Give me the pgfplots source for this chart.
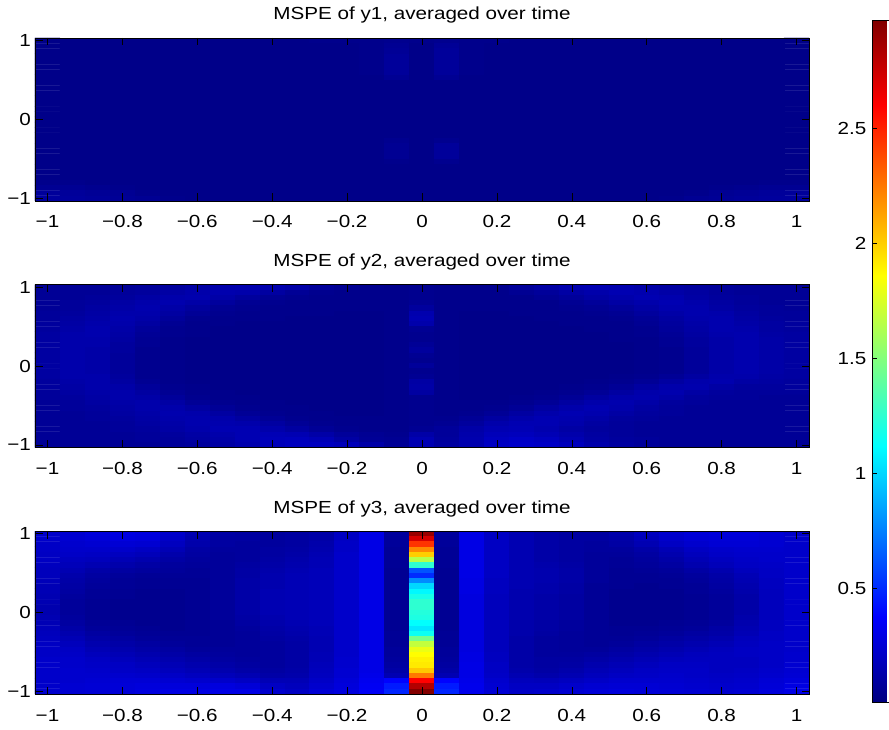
\documentclass[border=0pt]{standalone}
\usepackage{pgfplots}
\pgfplotsset{compat=1.18}
\usepackage{fontspec}
\setmainfont{Liberation Sans}[FakeStretch=1.18]

\newcommand{\lab}{\fontsize{17.5}{18}\selectfont}

% 31 x 31 grids, x from -1 to 1 (columns), y from 1 down to -1 (rows),
% one value per cell, rows written from the top of the panel downwards
\pgfplotsset{
  mspe/.style={
    scale only axis,
    width=774pt, height=163pt,
    anchor=south west,
    xmin=-0.5, xmax=30.5, ymin=-0.5, ymax=30.5,
    y dir=reverse,
    xtick={0,3,...,30},
    xticklabels={−1,−0.8,−0.6,−0.4,−0.2,0,0.2,0.4,0.6,0.8,1},
    ytick={0,15,30},
    yticklabels={1,0,−1},
    tick align=inside,
    tick pos=both,
    major tick length=7.5pt,
    tick style={black, line width=0.6pt},
    axis line style={black, line width=0.8pt},
    axis on top,
    colormap/jet,
    point meta min=0.005, point meta max=2.97,
    xticklabel style={font=\lab, anchor=base, yshift=-27pt},
    yticklabel style={font=\lab, anchor=east, inner sep=0pt, xshift=-4pt},
    title style={font=\lab, at={(0.5,1)}, anchor=base, yshift=12pt},
  },
  cells/.style={matrix plot*, mesh/cols=31, point meta=explicit,
    draw=mapped color, line width=0.3pt},
}

\begin{document}
\begin{tikzpicture}

% ---------------- y1 ----------------
\begin{axis}[mspe, at={(35pt,528pt)},
  title={MSPE of y1, averaged over time},
  colorbar,
  colorbar style={
    at={(864pt,709pt)}, anchor=north west,
    scale only axis, width=26pt, height=682pt,
    y dir=normal,
    ytick={0.5,1,1.5,2,2.5},
    yticklabels={0.5,1,1.5,2,2.5},
    yticklabel pos=left,
    ytick pos=both,
    tick align=inside,
    major tick length=4pt,
    tick style={black, line width=0.6pt},
    axis line style={black, line width=0.8pt},
    yticklabel style={font=\lab, anchor=east, inner sep=0pt, xshift=-6pt},
  },
]
\addplot[cells] table[row sep=\\, header=false, meta index=0,
  x expr={round(\coordindex-31*floor((\coordindex+0.5)/31))},
  y expr={round(floor((\coordindex+0.5)/31))}] {
0.03\\ 0.03\\ 0.03\\ 0.03\\ 0.03\\ 0.03\\ 0.03\\ 0.03\\ 0.03\\ 0.03\\ 0.03\\ 0.04\\ 0.04\\ 0.04\\ 0.05\\ 0.04\\ 0.05\\ 0.04\\ 0.04\\ 0.03\\ 0.03\\ 0.03\\ 0.03\\ 0.03\\ 0.03\\ 0.03\\ 0.03\\ 0.03\\ 0.03\\ 0.03\\ 0.03\\
0.03\\ 0.03\\ 0.03\\ 0.03\\ 0.03\\ 0.03\\ 0.03\\ 0.03\\ 0.03\\ 0.03\\ 0.03\\ 0.03\\ 0.03\\ 0.04\\ 0.06\\ 0.03\\ 0.07\\ 0.04\\ 0.03\\ 0.03\\ 0.03\\ 0.03\\ 0.03\\ 0.03\\ 0.03\\ 0.03\\ 0.03\\ 0.03\\ 0.03\\ 0.03\\ 0.03\\
0.03\\ 0.03\\ 0.03\\ 0.03\\ 0.03\\ 0.03\\ 0.03\\ 0.03\\ 0.03\\ 0.03\\ 0.03\\ 0.03\\ 0.03\\ 0.04\\ 0.07\\ 0.03\\ 0.08\\ 0.04\\ 0.03\\ 0.03\\ 0.03\\ 0.03\\ 0.03\\ 0.03\\ 0.03\\ 0.03\\ 0.03\\ 0.03\\ 0.03\\ 0.03\\ 0.03\\
0.03\\ 0.03\\ 0.03\\ 0.03\\ 0.03\\ 0.03\\ 0.03\\ 0.03\\ 0.03\\ 0.03\\ 0.03\\ 0.03\\ 0.03\\ 0.04\\ 0.08\\ 0.03\\ 0.08\\ 0.04\\ 0.03\\ 0.03\\ 0.03\\ 0.03\\ 0.03\\ 0.03\\ 0.03\\ 0.03\\ 0.03\\ 0.03\\ 0.03\\ 0.03\\ 0.03\\
0.03\\ 0.03\\ 0.03\\ 0.03\\ 0.03\\ 0.03\\ 0.03\\ 0.03\\ 0.03\\ 0.03\\ 0.03\\ 0.03\\ 0.03\\ 0.04\\ 0.08\\ 0.03\\ 0.08\\ 0.04\\ 0.03\\ 0.03\\ 0.03\\ 0.03\\ 0.03\\ 0.03\\ 0.03\\ 0.03\\ 0.03\\ 0.03\\ 0.03\\ 0.03\\ 0.03\\
0.03\\ 0.03\\ 0.03\\ 0.03\\ 0.03\\ 0.03\\ 0.03\\ 0.03\\ 0.03\\ 0.03\\ 0.03\\ 0.03\\ 0.03\\ 0.04\\ 0.08\\ 0.03\\ 0.08\\ 0.04\\ 0.03\\ 0.03\\ 0.03\\ 0.03\\ 0.03\\ 0.03\\ 0.03\\ 0.03\\ 0.03\\ 0.03\\ 0.03\\ 0.03\\ 0.03\\
0.03\\ 0.03\\ 0.03\\ 0.03\\ 0.03\\ 0.03\\ 0.03\\ 0.03\\ 0.03\\ 0.03\\ 0.03\\ 0.03\\ 0.03\\ 0.04\\ 0.08\\ 0.03\\ 0.08\\ 0.04\\ 0.03\\ 0.03\\ 0.03\\ 0.03\\ 0.03\\ 0.03\\ 0.03\\ 0.03\\ 0.03\\ 0.03\\ 0.03\\ 0.03\\ 0.03\\
0.03\\ 0.03\\ 0.03\\ 0.03\\ 0.03\\ 0.03\\ 0.03\\ 0.03\\ 0.03\\ 0.03\\ 0.03\\ 0.03\\ 0.03\\ 0.03\\ 0.06\\ 0.03\\ 0.06\\ 0.03\\ 0.03\\ 0.03\\ 0.03\\ 0.03\\ 0.03\\ 0.03\\ 0.03\\ 0.03\\ 0.03\\ 0.03\\ 0.03\\ 0.03\\ 0.03\\
0.03\\ 0.03\\ 0.03\\ 0.03\\ 0.03\\ 0.03\\ 0.03\\ 0.03\\ 0.03\\ 0.03\\ 0.03\\ 0.03\\ 0.03\\ 0.03\\ 0.03\\ 0.03\\ 0.03\\ 0.03\\ 0.03\\ 0.03\\ 0.03\\ 0.03\\ 0.03\\ 0.03\\ 0.03\\ 0.03\\ 0.03\\ 0.03\\ 0.03\\ 0.03\\ 0.03\\
0.03\\ 0.03\\ 0.03\\ 0.03\\ 0.03\\ 0.03\\ 0.03\\ 0.03\\ 0.03\\ 0.03\\ 0.03\\ 0.03\\ 0.03\\ 0.03\\ 0.03\\ 0.03\\ 0.03\\ 0.03\\ 0.03\\ 0.03\\ 0.03\\ 0.03\\ 0.03\\ 0.03\\ 0.03\\ 0.03\\ 0.03\\ 0.03\\ 0.03\\ 0.03\\ 0.03\\
0.03\\ 0.03\\ 0.03\\ 0.03\\ 0.03\\ 0.03\\ 0.03\\ 0.03\\ 0.03\\ 0.03\\ 0.03\\ 0.03\\ 0.03\\ 0.03\\ 0.03\\ 0.03\\ 0.03\\ 0.03\\ 0.03\\ 0.03\\ 0.03\\ 0.03\\ 0.03\\ 0.03\\ 0.03\\ 0.03\\ 0.03\\ 0.03\\ 0.03\\ 0.03\\ 0.03\\
0.03\\ 0.03\\ 0.03\\ 0.03\\ 0.03\\ 0.03\\ 0.03\\ 0.03\\ 0.03\\ 0.03\\ 0.03\\ 0.03\\ 0.03\\ 0.03\\ 0.03\\ 0.03\\ 0.03\\ 0.03\\ 0.03\\ 0.03\\ 0.03\\ 0.03\\ 0.03\\ 0.03\\ 0.03\\ 0.03\\ 0.03\\ 0.03\\ 0.03\\ 0.03\\ 0.03\\
0.03\\ 0.03\\ 0.03\\ 0.03\\ 0.03\\ 0.03\\ 0.03\\ 0.03\\ 0.03\\ 0.03\\ 0.03\\ 0.03\\ 0.03\\ 0.03\\ 0.03\\ 0.03\\ 0.03\\ 0.03\\ 0.03\\ 0.03\\ 0.03\\ 0.03\\ 0.03\\ 0.03\\ 0.03\\ 0.03\\ 0.03\\ 0.03\\ 0.03\\ 0.03\\ 0.03\\
0.03\\ 0.03\\ 0.03\\ 0.03\\ 0.03\\ 0.03\\ 0.03\\ 0.03\\ 0.03\\ 0.03\\ 0.03\\ 0.03\\ 0.03\\ 0.03\\ 0.03\\ 0.03\\ 0.03\\ 0.03\\ 0.03\\ 0.03\\ 0.03\\ 0.03\\ 0.03\\ 0.03\\ 0.03\\ 0.03\\ 0.03\\ 0.03\\ 0.03\\ 0.03\\ 0.03\\
0.03\\ 0.03\\ 0.03\\ 0.03\\ 0.03\\ 0.03\\ 0.03\\ 0.03\\ 0.03\\ 0.03\\ 0.03\\ 0.03\\ 0.03\\ 0.03\\ 0.03\\ 0.03\\ 0.03\\ 0.03\\ 0.03\\ 0.03\\ 0.03\\ 0.03\\ 0.03\\ 0.03\\ 0.03\\ 0.03\\ 0.03\\ 0.03\\ 0.03\\ 0.03\\ 0.03\\
0.03\\ 0.03\\ 0.03\\ 0.03\\ 0.03\\ 0.03\\ 0.03\\ 0.03\\ 0.03\\ 0.03\\ 0.03\\ 0.03\\ 0.03\\ 0.03\\ 0.03\\ 0.03\\ 0.03\\ 0.03\\ 0.03\\ 0.03\\ 0.03\\ 0.03\\ 0.03\\ 0.03\\ 0.03\\ 0.03\\ 0.03\\ 0.03\\ 0.03\\ 0.03\\ 0.03\\
0.03\\ 0.03\\ 0.03\\ 0.03\\ 0.03\\ 0.03\\ 0.03\\ 0.03\\ 0.03\\ 0.03\\ 0.03\\ 0.03\\ 0.03\\ 0.03\\ 0.03\\ 0.03\\ 0.03\\ 0.03\\ 0.03\\ 0.03\\ 0.03\\ 0.03\\ 0.03\\ 0.03\\ 0.03\\ 0.03\\ 0.03\\ 0.03\\ 0.03\\ 0.03\\ 0.03\\
0.03\\ 0.03\\ 0.03\\ 0.03\\ 0.03\\ 0.03\\ 0.03\\ 0.03\\ 0.03\\ 0.03\\ 0.03\\ 0.03\\ 0.03\\ 0.03\\ 0.03\\ 0.03\\ 0.03\\ 0.03\\ 0.03\\ 0.03\\ 0.03\\ 0.03\\ 0.03\\ 0.03\\ 0.03\\ 0.03\\ 0.03\\ 0.03\\ 0.03\\ 0.03\\ 0.03\\
0.03\\ 0.03\\ 0.03\\ 0.03\\ 0.03\\ 0.03\\ 0.03\\ 0.03\\ 0.03\\ 0.03\\ 0.03\\ 0.03\\ 0.03\\ 0.03\\ 0.03\\ 0.03\\ 0.03\\ 0.03\\ 0.03\\ 0.03\\ 0.03\\ 0.03\\ 0.03\\ 0.03\\ 0.03\\ 0.03\\ 0.03\\ 0.03\\ 0.03\\ 0.03\\ 0.03\\
0.03\\ 0.03\\ 0.03\\ 0.03\\ 0.03\\ 0.03\\ 0.03\\ 0.03\\ 0.03\\ 0.03\\ 0.03\\ 0.03\\ 0.03\\ 0.03\\ 0.05\\ 0.03\\ 0.05\\ 0.03\\ 0.03\\ 0.03\\ 0.03\\ 0.03\\ 0.03\\ 0.03\\ 0.03\\ 0.03\\ 0.03\\ 0.03\\ 0.03\\ 0.03\\ 0.03\\
0.03\\ 0.03\\ 0.03\\ 0.03\\ 0.03\\ 0.03\\ 0.03\\ 0.03\\ 0.03\\ 0.03\\ 0.03\\ 0.03\\ 0.03\\ 0.03\\ 0.06\\ 0.03\\ 0.08\\ 0.03\\ 0.03\\ 0.03\\ 0.03\\ 0.03\\ 0.03\\ 0.03\\ 0.03\\ 0.03\\ 0.03\\ 0.03\\ 0.03\\ 0.03\\ 0.03\\
0.03\\ 0.03\\ 0.03\\ 0.03\\ 0.03\\ 0.03\\ 0.03\\ 0.03\\ 0.03\\ 0.03\\ 0.03\\ 0.03\\ 0.03\\ 0.03\\ 0.06\\ 0.03\\ 0.08\\ 0.03\\ 0.03\\ 0.03\\ 0.03\\ 0.03\\ 0.03\\ 0.03\\ 0.03\\ 0.03\\ 0.03\\ 0.03\\ 0.03\\ 0.03\\ 0.03\\
0.03\\ 0.03\\ 0.03\\ 0.03\\ 0.03\\ 0.03\\ 0.03\\ 0.03\\ 0.03\\ 0.03\\ 0.03\\ 0.03\\ 0.03\\ 0.03\\ 0.06\\ 0.03\\ 0.08\\ 0.03\\ 0.03\\ 0.03\\ 0.03\\ 0.03\\ 0.03\\ 0.03\\ 0.03\\ 0.03\\ 0.03\\ 0.03\\ 0.03\\ 0.03\\ 0.03\\
0.03\\ 0.03\\ 0.03\\ 0.03\\ 0.03\\ 0.03\\ 0.03\\ 0.03\\ 0.03\\ 0.03\\ 0.03\\ 0.03\\ 0.03\\ 0.03\\ 0.04\\ 0.03\\ 0.05\\ 0.03\\ 0.03\\ 0.03\\ 0.03\\ 0.03\\ 0.03\\ 0.03\\ 0.03\\ 0.03\\ 0.03\\ 0.03\\ 0.03\\ 0.03\\ 0.03\\
0.03\\ 0.03\\ 0.03\\ 0.03\\ 0.03\\ 0.03\\ 0.03\\ 0.03\\ 0.03\\ 0.03\\ 0.03\\ 0.03\\ 0.03\\ 0.03\\ 0.03\\ 0.03\\ 0.03\\ 0.03\\ 0.03\\ 0.03\\ 0.03\\ 0.03\\ 0.03\\ 0.03\\ 0.03\\ 0.03\\ 0.03\\ 0.03\\ 0.03\\ 0.03\\ 0.03\\
0.03\\ 0.03\\ 0.03\\ 0.03\\ 0.03\\ 0.03\\ 0.03\\ 0.03\\ 0.03\\ 0.03\\ 0.03\\ 0.03\\ 0.03\\ 0.03\\ 0.03\\ 0.03\\ 0.03\\ 0.03\\ 0.03\\ 0.03\\ 0.03\\ 0.03\\ 0.03\\ 0.03\\ 0.03\\ 0.03\\ 0.03\\ 0.03\\ 0.03\\ 0.03\\ 0.03\\
0.03\\ 0.03\\ 0.03\\ 0.03\\ 0.03\\ 0.03\\ 0.03\\ 0.03\\ 0.03\\ 0.03\\ 0.03\\ 0.03\\ 0.03\\ 0.03\\ 0.03\\ 0.03\\ 0.03\\ 0.03\\ 0.03\\ 0.03\\ 0.03\\ 0.03\\ 0.03\\ 0.03\\ 0.03\\ 0.03\\ 0.03\\ 0.03\\ 0.03\\ 0.03\\ 0.03\\
0.04\\ 0.04\\ 0.03\\ 0.03\\ 0.03\\ 0.03\\ 0.03\\ 0.03\\ 0.03\\ 0.03\\ 0.03\\ 0.03\\ 0.03\\ 0.03\\ 0.03\\ 0.03\\ 0.03\\ 0.03\\ 0.03\\ 0.03\\ 0.03\\ 0.03\\ 0.03\\ 0.03\\ 0.03\\ 0.03\\ 0.03\\ 0.03\\ 0.03\\ 0.04\\ 0.04\\
0.06\\ 0.06\\ 0.05\\ 0.04\\ 0.03\\ 0.03\\ 0.03\\ 0.03\\ 0.03\\ 0.03\\ 0.03\\ 0.03\\ 0.03\\ 0.03\\ 0.03\\ 0.03\\ 0.03\\ 0.03\\ 0.03\\ 0.03\\ 0.03\\ 0.03\\ 0.03\\ 0.03\\ 0.03\\ 0.03\\ 0.03\\ 0.04\\ 0.05\\ 0.06\\ 0.06\\
0.08\\ 0.08\\ 0.07\\ 0.06\\ 0.04\\ 0.03\\ 0.03\\ 0.03\\ 0.03\\ 0.03\\ 0.03\\ 0.03\\ 0.03\\ 0.03\\ 0.03\\ 0.03\\ 0.03\\ 0.03\\ 0.03\\ 0.03\\ 0.03\\ 0.03\\ 0.03\\ 0.03\\ 0.03\\ 0.03\\ 0.04\\ 0.06\\ 0.07\\ 0.08\\ 0.08\\
0.09\\ 0.09\\ 0.08\\ 0.07\\ 0.06\\ 0.04\\ 0.03\\ 0.03\\ 0.03\\ 0.03\\ 0.03\\ 0.03\\ 0.03\\ 0.03\\ 0.03\\ 0.03\\ 0.03\\ 0.03\\ 0.03\\ 0.03\\ 0.03\\ 0.03\\ 0.03\\ 0.03\\ 0.03\\ 0.04\\ 0.06\\ 0.07\\ 0.08\\ 0.09\\ 0.09\\
};
\end{axis}

% ---------------- y2 ----------------
\begin{axis}[mspe, at={(35pt,281.5pt)},
  title={MSPE of y2, averaged over time}]
\addplot[cells] table[row sep=\\, header=false, meta index=0,
  x expr={round(\coordindex-31*floor((\coordindex+0.5)/31))},
  y expr={round(floor((\coordindex+0.5)/31))}] {
0.07\\ 0.07\\ 0.07\\ 0.07\\ 0.08\\ 0.09\\ 0.11\\ 0.13\\ 0.14\\ 0.14\\ 0.12\\ 0.08\\ 0.06\\ 0.05\\ 0.04\\ 0.05\\ 0.04\\ 0.04\\ 0.05\\ 0.08\\ 0.11\\ 0.14\\ 0.15\\ 0.14\\ 0.12\\ 0.10\\ 0.09\\ 0.08\\ 0.07\\ 0.07\\ 0.07\\
0.07\\ 0.07\\ 0.07\\ 0.08\\ 0.09\\ 0.11\\ 0.13\\ 0.14\\ 0.13\\ 0.10\\ 0.07\\ 0.05\\ 0.04\\ 0.04\\ 0.04\\ 0.05\\ 0.04\\ 0.04\\ 0.04\\ 0.06\\ 0.08\\ 0.11\\ 0.13\\ 0.15\\ 0.14\\ 0.12\\ 0.10\\ 0.08\\ 0.07\\ 0.07\\ 0.07\\
0.07\\ 0.07\\ 0.08\\ 0.09\\ 0.11\\ 0.13\\ 0.14\\ 0.12\\ 0.09\\ 0.06\\ 0.05\\ 0.04\\ 0.04\\ 0.04\\ 0.04\\ 0.05\\ 0.04\\ 0.04\\ 0.04\\ 0.04\\ 0.06\\ 0.08\\ 0.11\\ 0.13\\ 0.15\\ 0.14\\ 0.11\\ 0.09\\ 0.08\\ 0.07\\ 0.07\\
0.07\\ 0.08\\ 0.09\\ 0.11\\ 0.13\\ 0.14\\ 0.12\\ 0.09\\ 0.06\\ 0.05\\ 0.04\\ 0.04\\ 0.04\\ 0.04\\ 0.04\\ 0.06\\ 0.04\\ 0.04\\ 0.04\\ 0.04\\ 0.04\\ 0.06\\ 0.08\\ 0.11\\ 0.13\\ 0.15\\ 0.13\\ 0.10\\ 0.08\\ 0.07\\ 0.07\\
0.07\\ 0.08\\ 0.10\\ 0.12\\ 0.14\\ 0.12\\ 0.09\\ 0.06\\ 0.05\\ 0.04\\ 0.04\\ 0.04\\ 0.04\\ 0.04\\ 0.04\\ 0.09\\ 0.04\\ 0.04\\ 0.04\\ 0.04\\ 0.04\\ 0.05\\ 0.06\\ 0.08\\ 0.11\\ 0.14\\ 0.14\\ 0.11\\ 0.09\\ 0.08\\ 0.07\\
0.08\\ 0.09\\ 0.11\\ 0.13\\ 0.13\\ 0.10\\ 0.07\\ 0.05\\ 0.04\\ 0.04\\ 0.04\\ 0.04\\ 0.03\\ 0.03\\ 0.04\\ 0.14\\ 0.04\\ 0.03\\ 0.03\\ 0.04\\ 0.04\\ 0.04\\ 0.05\\ 0.06\\ 0.09\\ 0.12\\ 0.14\\ 0.13\\ 0.10\\ 0.08\\ 0.08\\
0.08\\ 0.10\\ 0.12\\ 0.14\\ 0.12\\ 0.08\\ 0.05\\ 0.04\\ 0.04\\ 0.04\\ 0.03\\ 0.03\\ 0.03\\ 0.03\\ 0.04\\ 0.15\\ 0.04\\ 0.03\\ 0.03\\ 0.03\\ 0.04\\ 0.04\\ 0.04\\ 0.05\\ 0.07\\ 0.10\\ 0.13\\ 0.14\\ 0.11\\ 0.09\\ 0.08\\
0.09\\ 0.11\\ 0.13\\ 0.13\\ 0.10\\ 0.06\\ 0.04\\ 0.04\\ 0.03\\ 0.03\\ 0.03\\ 0.03\\ 0.03\\ 0.03\\ 0.04\\ 0.13\\ 0.04\\ 0.03\\ 0.03\\ 0.03\\ 0.03\\ 0.04\\ 0.04\\ 0.04\\ 0.06\\ 0.09\\ 0.12\\ 0.14\\ 0.12\\ 0.10\\ 0.09\\
0.09\\ 0.12\\ 0.14\\ 0.12\\ 0.08\\ 0.05\\ 0.04\\ 0.03\\ 0.03\\ 0.03\\ 0.03\\ 0.03\\ 0.03\\ 0.03\\ 0.04\\ 0.06\\ 0.04\\ 0.03\\ 0.03\\ 0.03\\ 0.03\\ 0.03\\ 0.04\\ 0.04\\ 0.05\\ 0.08\\ 0.11\\ 0.14\\ 0.13\\ 0.10\\ 0.09\\
0.10\\ 0.13\\ 0.14\\ 0.11\\ 0.07\\ 0.05\\ 0.04\\ 0.03\\ 0.03\\ 0.03\\ 0.03\\ 0.03\\ 0.03\\ 0.03\\ 0.04\\ 0.05\\ 0.04\\ 0.03\\ 0.03\\ 0.03\\ 0.03\\ 0.03\\ 0.03\\ 0.04\\ 0.05\\ 0.07\\ 0.10\\ 0.13\\ 0.14\\ 0.11\\ 0.10\\
0.10\\ 0.13\\ 0.13\\ 0.10\\ 0.06\\ 0.04\\ 0.03\\ 0.03\\ 0.03\\ 0.03\\ 0.03\\ 0.03\\ 0.03\\ 0.03\\ 0.04\\ 0.05\\ 0.04\\ 0.03\\ 0.03\\ 0.03\\ 0.03\\ 0.03\\ 0.03\\ 0.04\\ 0.04\\ 0.06\\ 0.09\\ 0.12\\ 0.14\\ 0.12\\ 0.10\\
0.10\\ 0.13\\ 0.13\\ 0.09\\ 0.06\\ 0.04\\ 0.03\\ 0.03\\ 0.03\\ 0.03\\ 0.03\\ 0.03\\ 0.03\\ 0.03\\ 0.04\\ 0.07\\ 0.04\\ 0.03\\ 0.03\\ 0.03\\ 0.03\\ 0.03\\ 0.03\\ 0.03\\ 0.04\\ 0.06\\ 0.09\\ 0.12\\ 0.14\\ 0.12\\ 0.10\\
0.10\\ 0.13\\ 0.12\\ 0.09\\ 0.05\\ 0.04\\ 0.03\\ 0.03\\ 0.03\\ 0.03\\ 0.03\\ 0.03\\ 0.03\\ 0.03\\ 0.04\\ 0.09\\ 0.04\\ 0.03\\ 0.03\\ 0.03\\ 0.03\\ 0.03\\ 0.03\\ 0.03\\ 0.04\\ 0.05\\ 0.08\\ 0.12\\ 0.14\\ 0.12\\ 0.10\\
0.10\\ 0.13\\ 0.12\\ 0.08\\ 0.05\\ 0.04\\ 0.03\\ 0.03\\ 0.03\\ 0.03\\ 0.03\\ 0.03\\ 0.03\\ 0.03\\ 0.04\\ 0.06\\ 0.04\\ 0.03\\ 0.03\\ 0.03\\ 0.03\\ 0.03\\ 0.03\\ 0.03\\ 0.04\\ 0.05\\ 0.08\\ 0.12\\ 0.14\\ 0.12\\ 0.10\\
0.10\\ 0.13\\ 0.12\\ 0.08\\ 0.05\\ 0.04\\ 0.03\\ 0.03\\ 0.03\\ 0.03\\ 0.03\\ 0.03\\ 0.03\\ 0.03\\ 0.04\\ 0.05\\ 0.04\\ 0.03\\ 0.03\\ 0.03\\ 0.03\\ 0.03\\ 0.03\\ 0.03\\ 0.04\\ 0.05\\ 0.08\\ 0.12\\ 0.14\\ 0.12\\ 0.10\\
0.10\\ 0.13\\ 0.12\\ 0.08\\ 0.05\\ 0.04\\ 0.03\\ 0.03\\ 0.03\\ 0.03\\ 0.03\\ 0.03\\ 0.03\\ 0.03\\ 0.04\\ 0.08\\ 0.04\\ 0.03\\ 0.03\\ 0.03\\ 0.03\\ 0.03\\ 0.03\\ 0.03\\ 0.04\\ 0.05\\ 0.08\\ 0.12\\ 0.14\\ 0.12\\ 0.10\\
0.10\\ 0.13\\ 0.12\\ 0.08\\ 0.05\\ 0.04\\ 0.03\\ 0.03\\ 0.03\\ 0.03\\ 0.03\\ 0.03\\ 0.03\\ 0.03\\ 0.04\\ 0.05\\ 0.04\\ 0.03\\ 0.03\\ 0.03\\ 0.03\\ 0.03\\ 0.03\\ 0.03\\ 0.04\\ 0.05\\ 0.08\\ 0.12\\ 0.14\\ 0.12\\ 0.10\\
0.10\\ 0.13\\ 0.13\\ 0.09\\ 0.05\\ 0.04\\ 0.03\\ 0.03\\ 0.03\\ 0.03\\ 0.03\\ 0.03\\ 0.03\\ 0.03\\ 0.04\\ 0.06\\ 0.04\\ 0.03\\ 0.03\\ 0.03\\ 0.03\\ 0.03\\ 0.03\\ 0.04\\ 0.05\\ 0.07\\ 0.10\\ 0.13\\ 0.13\\ 0.11\\ 0.10\\
0.09\\ 0.12\\ 0.13\\ 0.10\\ 0.06\\ 0.04\\ 0.03\\ 0.03\\ 0.03\\ 0.03\\ 0.03\\ 0.03\\ 0.03\\ 0.03\\ 0.04\\ 0.11\\ 0.04\\ 0.03\\ 0.03\\ 0.03\\ 0.03\\ 0.03\\ 0.04\\ 0.05\\ 0.07\\ 0.10\\ 0.13\\ 0.14\\ 0.11\\ 0.10\\ 0.09\\
0.09\\ 0.11\\ 0.13\\ 0.12\\ 0.08\\ 0.05\\ 0.04\\ 0.03\\ 0.03\\ 0.03\\ 0.03\\ 0.03\\ 0.03\\ 0.03\\ 0.04\\ 0.12\\ 0.04\\ 0.03\\ 0.03\\ 0.03\\ 0.03\\ 0.04\\ 0.05\\ 0.07\\ 0.10\\ 0.13\\ 0.14\\ 0.11\\ 0.09\\ 0.09\\ 0.09\\
0.08\\ 0.10\\ 0.12\\ 0.13\\ 0.10\\ 0.06\\ 0.04\\ 0.04\\ 0.03\\ 0.03\\ 0.03\\ 0.03\\ 0.03\\ 0.03\\ 0.04\\ 0.10\\ 0.04\\ 0.03\\ 0.03\\ 0.03\\ 0.04\\ 0.05\\ 0.07\\ 0.10\\ 0.13\\ 0.14\\ 0.11\\ 0.09\\ 0.08\\ 0.08\\ 0.08\\
0.08\\ 0.09\\ 0.11\\ 0.13\\ 0.12\\ 0.08\\ 0.05\\ 0.04\\ 0.04\\ 0.03\\ 0.03\\ 0.03\\ 0.03\\ 0.03\\ 0.04\\ 0.05\\ 0.04\\ 0.03\\ 0.03\\ 0.04\\ 0.05\\ 0.07\\ 0.10\\ 0.13\\ 0.14\\ 0.12\\ 0.09\\ 0.08\\ 0.08\\ 0.07\\ 0.07\\
0.07\\ 0.08\\ 0.10\\ 0.12\\ 0.13\\ 0.11\\ 0.07\\ 0.05\\ 0.04\\ 0.04\\ 0.03\\ 0.03\\ 0.03\\ 0.03\\ 0.04\\ 0.05\\ 0.04\\ 0.04\\ 0.04\\ 0.05\\ 0.07\\ 0.10\\ 0.13\\ 0.14\\ 0.12\\ 0.09\\ 0.08\\ 0.07\\ 0.07\\ 0.07\\ 0.07\\
0.07\\ 0.08\\ 0.09\\ 0.11\\ 0.13\\ 0.13\\ 0.10\\ 0.07\\ 0.05\\ 0.04\\ 0.04\\ 0.03\\ 0.03\\ 0.03\\ 0.04\\ 0.05\\ 0.04\\ 0.04\\ 0.05\\ 0.07\\ 0.10\\ 0.13\\ 0.15\\ 0.13\\ 0.10\\ 0.08\\ 0.07\\ 0.07\\ 0.07\\ 0.07\\ 0.07\\
0.07\\ 0.07\\ 0.08\\ 0.10\\ 0.12\\ 0.14\\ 0.13\\ 0.10\\ 0.07\\ 0.05\\ 0.04\\ 0.04\\ 0.03\\ 0.03\\ 0.04\\ 0.05\\ 0.04\\ 0.05\\ 0.07\\ 0.10\\ 0.13\\ 0.15\\ 0.14\\ 0.11\\ 0.09\\ 0.08\\ 0.07\\ 0.07\\ 0.07\\ 0.07\\ 0.07\\
0.07\\ 0.07\\ 0.08\\ 0.09\\ 0.11\\ 0.13\\ 0.14\\ 0.13\\ 0.10\\ 0.07\\ 0.05\\ 0.04\\ 0.04\\ 0.04\\ 0.04\\ 0.05\\ 0.05\\ 0.07\\ 0.10\\ 0.13\\ 0.15\\ 0.14\\ 0.12\\ 0.09\\ 0.08\\ 0.07\\ 0.07\\ 0.07\\ 0.07\\ 0.07\\ 0.07\\
0.07\\ 0.07\\ 0.07\\ 0.08\\ 0.10\\ 0.12\\ 0.14\\ 0.14\\ 0.13\\ 0.10\\ 0.07\\ 0.05\\ 0.04\\ 0.04\\ 0.04\\ 0.05\\ 0.06\\ 0.09\\ 0.13\\ 0.15\\ 0.15\\ 0.13\\ 0.10\\ 0.08\\ 0.07\\ 0.07\\ 0.07\\ 0.07\\ 0.07\\ 0.07\\ 0.07\\
0.07\\ 0.07\\ 0.07\\ 0.08\\ 0.09\\ 0.11\\ 0.13\\ 0.15\\ 0.15\\ 0.13\\ 0.10\\ 0.07\\ 0.05\\ 0.04\\ 0.04\\ 0.06\\ 0.08\\ 0.12\\ 0.15\\ 0.16\\ 0.14\\ 0.11\\ 0.09\\ 0.08\\ 0.07\\ 0.07\\ 0.07\\ 0.07\\ 0.07\\ 0.07\\ 0.07\\
0.07\\ 0.07\\ 0.07\\ 0.07\\ 0.08\\ 0.09\\ 0.11\\ 0.13\\ 0.15\\ 0.16\\ 0.15\\ 0.12\\ 0.08\\ 0.06\\ 0.05\\ 0.12\\ 0.08\\ 0.13\\ 0.17\\ 0.18\\ 0.16\\ 0.13\\ 0.10\\ 0.08\\ 0.07\\ 0.07\\ 0.07\\ 0.07\\ 0.07\\ 0.07\\ 0.07\\
0.07\\ 0.07\\ 0.07\\ 0.07\\ 0.08\\ 0.08\\ 0.10\\ 0.12\\ 0.15\\ 0.17\\ 0.18\\ 0.16\\ 0.11\\ 0.07\\ 0.06\\ 0.15\\ 0.09\\ 0.14\\ 0.19\\ 0.21\\ 0.19\\ 0.15\\ 0.11\\ 0.09\\ 0.08\\ 0.07\\ 0.07\\ 0.07\\ 0.07\\ 0.07\\ 0.07\\
0.07\\ 0.07\\ 0.07\\ 0.07\\ 0.07\\ 0.08\\ 0.09\\ 0.11\\ 0.14\\ 0.17\\ 0.19\\ 0.19\\ 0.17\\ 0.12\\ 0.07\\ 0.15\\ 0.10\\ 0.14\\ 0.20\\ 0.22\\ 0.21\\ 0.18\\ 0.13\\ 0.10\\ 0.08\\ 0.07\\ 0.07\\ 0.07\\ 0.07\\ 0.07\\ 0.07\\
};
\end{axis}

% ---------------- y3 ----------------
\begin{axis}[mspe, at={(35pt,35pt)},
  title={MSPE of y3, averaged over time}]
\addplot[cells] table[row sep=\\, header=false, meta index=0,
  x expr={round(\coordindex-31*floor((\coordindex+0.5)/31))},
  y expr={round(floor((\coordindex+0.5)/31))}] {
0.22\\ 0.24\\ 0.27\\ 0.29\\ 0.28\\ 0.22\\ 0.15\\ 0.11\\ 0.10\\ 0.09\\ 0.10\\ 0.12\\ 0.20\\ 0.30\\ 0.09\\ 2.90\\ 0.09\\ 0.30\\ 0.20\\ 0.15\\ 0.12\\ 0.10\\ 0.10\\ 0.13\\ 0.19\\ 0.23\\ 0.26\\ 0.27\\ 0.27\\ 0.25\\ 0.22\\
0.22\\ 0.24\\ 0.26\\ 0.28\\ 0.27\\ 0.21\\ 0.14\\ 0.10\\ 0.10\\ 0.09\\ 0.10\\ 0.12\\ 0.20\\ 0.30\\ 0.08\\ 2.72\\ 0.08\\ 0.30\\ 0.20\\ 0.15\\ 0.12\\ 0.10\\ 0.10\\ 0.12\\ 0.17\\ 0.22\\ 0.25\\ 0.26\\ 0.26\\ 0.24\\ 0.22\\
0.21\\ 0.23\\ 0.24\\ 0.25\\ 0.24\\ 0.19\\ 0.13\\ 0.10\\ 0.09\\ 0.09\\ 0.10\\ 0.13\\ 0.21\\ 0.30\\ 0.08\\ 2.45\\ 0.08\\ 0.30\\ 0.20\\ 0.15\\ 0.12\\ 0.10\\ 0.09\\ 0.11\\ 0.15\\ 0.20\\ 0.23\\ 0.25\\ 0.25\\ 0.24\\ 0.22\\
0.21\\ 0.22\\ 0.22\\ 0.22\\ 0.20\\ 0.16\\ 0.11\\ 0.09\\ 0.09\\ 0.10\\ 0.11\\ 0.14\\ 0.21\\ 0.30\\ 0.07\\ 2.20\\ 0.07\\ 0.30\\ 0.20\\ 0.15\\ 0.12\\ 0.10\\ 0.09\\ 0.09\\ 0.12\\ 0.16\\ 0.20\\ 0.22\\ 0.23\\ 0.23\\ 0.22\\
0.20\\ 0.21\\ 0.20\\ 0.19\\ 0.17\\ 0.13\\ 0.10\\ 0.08\\ 0.09\\ 0.10\\ 0.12\\ 0.15\\ 0.22\\ 0.30\\ 0.07\\ 2.00\\ 0.07\\ 0.30\\ 0.20\\ 0.15\\ 0.12\\ 0.10\\ 0.08\\ 0.08\\ 0.10\\ 0.14\\ 0.18\\ 0.21\\ 0.22\\ 0.22\\ 0.22\\
0.20\\ 0.19\\ 0.18\\ 0.16\\ 0.14\\ 0.11\\ 0.09\\ 0.08\\ 0.09\\ 0.11\\ 0.13\\ 0.16\\ 0.22\\ 0.30\\ 0.07\\ 1.65\\ 0.07\\ 0.30\\ 0.20\\ 0.15\\ 0.12\\ 0.10\\ 0.08\\ 0.07\\ 0.09\\ 0.12\\ 0.16\\ 0.19\\ 0.21\\ 0.22\\ 0.22\\
0.19\\ 0.17\\ 0.15\\ 0.13\\ 0.11\\ 0.09\\ 0.08\\ 0.08\\ 0.10\\ 0.12\\ 0.14\\ 0.16\\ 0.22\\ 0.30\\ 0.07\\ 1.25\\ 0.07\\ 0.30\\ 0.20\\ 0.15\\ 0.13\\ 0.11\\ 0.08\\ 0.07\\ 0.08\\ 0.10\\ 0.14\\ 0.17\\ 0.20\\ 0.21\\ 0.22\\
0.18\\ 0.15\\ 0.12\\ 0.10\\ 0.09\\ 0.08\\ 0.07\\ 0.08\\ 0.11\\ 0.13\\ 0.15\\ 0.17\\ 0.22\\ 0.30\\ 0.06\\ 0.62\\ 0.06\\ 0.30\\ 0.20\\ 0.15\\ 0.14\\ 0.12\\ 0.08\\ 0.06\\ 0.07\\ 0.08\\ 0.11\\ 0.14\\ 0.18\\ 0.20\\ 0.22\\
0.18\\ 0.13\\ 0.10\\ 0.08\\ 0.07\\ 0.07\\ 0.07\\ 0.08\\ 0.11\\ 0.14\\ 0.16\\ 0.17\\ 0.22\\ 0.30\\ 0.06\\ 0.50\\ 0.06\\ 0.30\\ 0.20\\ 0.15\\ 0.14\\ 0.12\\ 0.08\\ 0.06\\ 0.06\\ 0.07\\ 0.09\\ 0.12\\ 0.16\\ 0.20\\ 0.22\\
0.17\\ 0.12\\ 0.09\\ 0.07\\ 0.06\\ 0.06\\ 0.06\\ 0.08\\ 0.12\\ 0.14\\ 0.16\\ 0.17\\ 0.22\\ 0.30\\ 0.06\\ 0.78\\ 0.06\\ 0.29\\ 0.19\\ 0.15\\ 0.14\\ 0.12\\ 0.08\\ 0.06\\ 0.06\\ 0.06\\ 0.08\\ 0.11\\ 0.15\\ 0.19\\ 0.22\\
0.16\\ 0.11\\ 0.08\\ 0.07\\ 0.06\\ 0.06\\ 0.06\\ 0.08\\ 0.12\\ 0.14\\ 0.16\\ 0.17\\ 0.22\\ 0.30\\ 0.06\\ 1.00\\ 0.06\\ 0.29\\ 0.19\\ 0.15\\ 0.13\\ 0.11\\ 0.07\\ 0.06\\ 0.05\\ 0.06\\ 0.07\\ 0.10\\ 0.14\\ 0.19\\ 0.22\\
0.16\\ 0.10\\ 0.07\\ 0.06\\ 0.05\\ 0.05\\ 0.06\\ 0.08\\ 0.12\\ 0.15\\ 0.16\\ 0.17\\ 0.22\\ 0.30\\ 0.06\\ 1.10\\ 0.06\\ 0.29\\ 0.19\\ 0.14\\ 0.13\\ 0.11\\ 0.07\\ 0.05\\ 0.05\\ 0.05\\ 0.07\\ 0.09\\ 0.13\\ 0.18\\ 0.22\\
0.15\\ 0.09\\ 0.07\\ 0.06\\ 0.05\\ 0.05\\ 0.06\\ 0.08\\ 0.12\\ 0.15\\ 0.16\\ 0.17\\ 0.22\\ 0.30\\ 0.06\\ 1.18\\ 0.06\\ 0.28\\ 0.18\\ 0.14\\ 0.12\\ 0.10\\ 0.07\\ 0.05\\ 0.05\\ 0.05\\ 0.06\\ 0.08\\ 0.12\\ 0.18\\ 0.22\\
0.15\\ 0.08\\ 0.06\\ 0.05\\ 0.05\\ 0.05\\ 0.06\\ 0.08\\ 0.12\\ 0.15\\ 0.16\\ 0.17\\ 0.22\\ 0.30\\ 0.06\\ 1.25\\ 0.06\\ 0.28\\ 0.18\\ 0.14\\ 0.12\\ 0.10\\ 0.07\\ 0.05\\ 0.05\\ 0.05\\ 0.06\\ 0.08\\ 0.12\\ 0.18\\ 0.22\\
0.14\\ 0.08\\ 0.06\\ 0.05\\ 0.05\\ 0.05\\ 0.06\\ 0.08\\ 0.12\\ 0.15\\ 0.16\\ 0.17\\ 0.22\\ 0.30\\ 0.06\\ 1.25\\ 0.06\\ 0.28\\ 0.18\\ 0.14\\ 0.12\\ 0.10\\ 0.07\\ 0.05\\ 0.05\\ 0.05\\ 0.06\\ 0.08\\ 0.12\\ 0.18\\ 0.22\\
0.14\\ 0.08\\ 0.06\\ 0.05\\ 0.05\\ 0.05\\ 0.06\\ 0.08\\ 0.12\\ 0.15\\ 0.16\\ 0.17\\ 0.22\\ 0.30\\ 0.06\\ 1.22\\ 0.06\\ 0.28\\ 0.18\\ 0.14\\ 0.12\\ 0.10\\ 0.07\\ 0.05\\ 0.05\\ 0.05\\ 0.06\\ 0.08\\ 0.12\\ 0.18\\ 0.22\\
0.15\\ 0.09\\ 0.06\\ 0.05\\ 0.05\\ 0.05\\ 0.06\\ 0.08\\ 0.11\\ 0.14\\ 0.16\\ 0.17\\ 0.22\\ 0.30\\ 0.06\\ 1.20\\ 0.06\\ 0.28\\ 0.18\\ 0.14\\ 0.12\\ 0.10\\ 0.07\\ 0.05\\ 0.05\\ 0.05\\ 0.06\\ 0.08\\ 0.13\\ 0.18\\ 0.22\\
0.16\\ 0.10\\ 0.07\\ 0.06\\ 0.05\\ 0.05\\ 0.06\\ 0.07\\ 0.10\\ 0.13\\ 0.15\\ 0.17\\ 0.22\\ 0.30\\ 0.06\\ 1.12\\ 0.06\\ 0.28\\ 0.18\\ 0.13\\ 0.11\\ 0.09\\ 0.07\\ 0.05\\ 0.05\\ 0.06\\ 0.07\\ 0.09\\ 0.14\\ 0.19\\ 0.22\\
0.17\\ 0.12\\ 0.08\\ 0.07\\ 0.06\\ 0.05\\ 0.06\\ 0.07\\ 0.09\\ 0.12\\ 0.14\\ 0.16\\ 0.22\\ 0.30\\ 0.06\\ 1.05\\ 0.06\\ 0.28\\ 0.18\\ 0.13\\ 0.11\\ 0.09\\ 0.07\\ 0.06\\ 0.06\\ 0.07\\ 0.08\\ 0.11\\ 0.15\\ 0.19\\ 0.22\\
0.18\\ 0.14\\ 0.10\\ 0.08\\ 0.07\\ 0.06\\ 0.06\\ 0.07\\ 0.08\\ 0.11\\ 0.13\\ 0.16\\ 0.22\\ 0.30\\ 0.07\\ 1.15\\ 0.07\\ 0.28\\ 0.18\\ 0.13\\ 0.10\\ 0.08\\ 0.07\\ 0.06\\ 0.07\\ 0.08\\ 0.10\\ 0.12\\ 0.16\\ 0.20\\ 0.22\\
0.19\\ 0.16\\ 0.12\\ 0.10\\ 0.08\\ 0.07\\ 0.07\\ 0.07\\ 0.08\\ 0.10\\ 0.12\\ 0.15\\ 0.22\\ 0.30\\ 0.07\\ 1.45\\ 0.07\\ 0.28\\ 0.18\\ 0.12\\ 0.09\\ 0.08\\ 0.07\\ 0.07\\ 0.08\\ 0.10\\ 0.12\\ 0.14\\ 0.18\\ 0.20\\ 0.22\\
0.20\\ 0.18\\ 0.14\\ 0.12\\ 0.10\\ 0.08\\ 0.07\\ 0.07\\ 0.08\\ 0.09\\ 0.11\\ 0.15\\ 0.22\\ 0.30\\ 0.07\\ 1.68\\ 0.07\\ 0.28\\ 0.18\\ 0.12\\ 0.09\\ 0.08\\ 0.07\\ 0.08\\ 0.10\\ 0.12\\ 0.14\\ 0.16\\ 0.19\\ 0.21\\ 0.22\\
0.21\\ 0.20\\ 0.16\\ 0.14\\ 0.12\\ 0.10\\ 0.08\\ 0.08\\ 0.08\\ 0.09\\ 0.11\\ 0.15\\ 0.22\\ 0.30\\ 0.08\\ 1.80\\ 0.08\\ 0.28\\ 0.18\\ 0.12\\ 0.09\\ 0.08\\ 0.08\\ 0.10\\ 0.12\\ 0.14\\ 0.16\\ 0.18\\ 0.20\\ 0.21\\ 0.22\\
0.21\\ 0.21\\ 0.18\\ 0.16\\ 0.14\\ 0.12\\ 0.10\\ 0.09\\ 0.08\\ 0.09\\ 0.11\\ 0.16\\ 0.22\\ 0.30\\ 0.08\\ 1.86\\ 0.08\\ 0.29\\ 0.19\\ 0.12\\ 0.09\\ 0.09\\ 0.10\\ 0.12\\ 0.14\\ 0.16\\ 0.18\\ 0.19\\ 0.20\\ 0.21\\ 0.23\\
0.22\\ 0.22\\ 0.20\\ 0.18\\ 0.16\\ 0.14\\ 0.12\\ 0.10\\ 0.09\\ 0.09\\ 0.11\\ 0.16\\ 0.23\\ 0.30\\ 0.09\\ 1.90\\ 0.09\\ 0.29\\ 0.19\\ 0.12\\ 0.10\\ 0.10\\ 0.12\\ 0.14\\ 0.16\\ 0.18\\ 0.19\\ 0.19\\ 0.19\\ 0.21\\ 0.23\\
0.22\\ 0.22\\ 0.21\\ 0.20\\ 0.18\\ 0.16\\ 0.14\\ 0.12\\ 0.10\\ 0.09\\ 0.11\\ 0.17\\ 0.23\\ 0.30\\ 0.10\\ 1.92\\ 0.10\\ 0.30\\ 0.20\\ 0.12\\ 0.10\\ 0.11\\ 0.14\\ 0.16\\ 0.18\\ 0.20\\ 0.20\\ 0.19\\ 0.19\\ 0.21\\ 0.24\\
0.22\\ 0.23\\ 0.22\\ 0.21\\ 0.20\\ 0.18\\ 0.16\\ 0.14\\ 0.12\\ 0.10\\ 0.12\\ 0.18\\ 0.24\\ 0.30\\ 0.12\\ 2.02\\ 0.12\\ 0.30\\ 0.20\\ 0.13\\ 0.11\\ 0.13\\ 0.16\\ 0.18\\ 0.20\\ 0.21\\ 0.21\\ 0.19\\ 0.20\\ 0.22\\ 0.24\\
0.22\\ 0.23\\ 0.23\\ 0.23\\ 0.22\\ 0.21\\ 0.19\\ 0.17\\ 0.15\\ 0.12\\ 0.13\\ 0.19\\ 0.24\\ 0.31\\ 0.15\\ 2.25\\ 0.15\\ 0.30\\ 0.21\\ 0.15\\ 0.13\\ 0.15\\ 0.18\\ 0.20\\ 0.21\\ 0.22\\ 0.21\\ 0.20\\ 0.21\\ 0.23\\ 0.25\\
0.22\\ 0.23\\ 0.24\\ 0.25\\ 0.25\\ 0.24\\ 0.23\\ 0.22\\ 0.20\\ 0.16\\ 0.16\\ 0.21\\ 0.26\\ 0.33\\ 0.38\\ 2.60\\ 0.38\\ 0.31\\ 0.23\\ 0.18\\ 0.17\\ 0.19\\ 0.21\\ 0.23\\ 0.23\\ 0.23\\ 0.22\\ 0.21\\ 0.22\\ 0.25\\ 0.27\\
0.22\\ 0.24\\ 0.25\\ 0.26\\ 0.27\\ 0.27\\ 0.27\\ 0.28\\ 0.26\\ 0.20\\ 0.18\\ 0.23\\ 0.27\\ 0.34\\ 0.45\\ 2.82\\ 0.45\\ 0.32\\ 0.24\\ 0.20\\ 0.20\\ 0.22\\ 0.24\\ 0.25\\ 0.25\\ 0.24\\ 0.23\\ 0.22\\ 0.23\\ 0.26\\ 0.29\\
0.23\\ 0.24\\ 0.25\\ 0.26\\ 0.28\\ 0.29\\ 0.29\\ 0.30\\ 0.30\\ 0.23\\ 0.20\\ 0.25\\ 0.28\\ 0.35\\ 0.48\\ 2.96\\ 0.48\\ 0.32\\ 0.25\\ 0.21\\ 0.22\\ 0.24\\ 0.26\\ 0.27\\ 0.26\\ 0.25\\ 0.24\\ 0.23\\ 0.24\\ 0.27\\ 0.30\\
};
\end{axis}

\pgfresetboundingbox
\path[use as bounding box] (0pt,0pt) rectangle (889pt,729pt);
\end{tikzpicture}
\end{document}
